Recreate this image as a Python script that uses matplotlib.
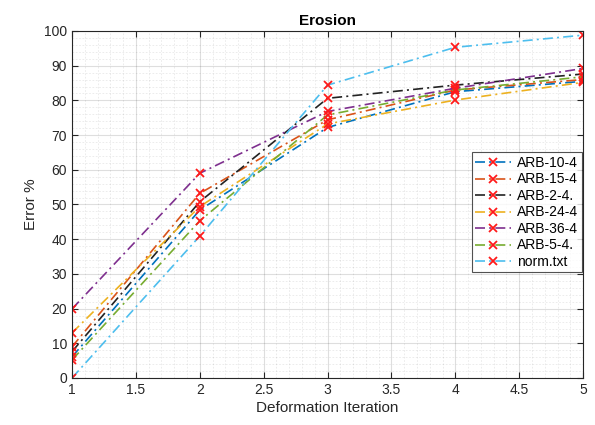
import numpy as np
import matplotlib
matplotlib.use('Agg')
import matplotlib.pyplot as plt
from matplotlib.ticker import MultipleLocator

# data
x = [1, 2, 3, 4, 5]
names = ['ARB-10-4', 'ARB-15-4', 'ARB-2-4.', 'ARB-24-4', 'ARB-36-4', 'ARB-5-4.', 'norm.txt']
arb10 = [6.1, 48.4, 72.2, 82.5, 85.5]
arb15 = [9.0, 53.2, 74.4, 83.0, 86.0]
arb2 = [7.6, 50.8, 80.6, 84.4, 87.6]
arb24 = [13.0, 49.4, 73.2, 80.1, 85.2]
arb36 = [19.9, 59.0, 76.8, 83.5, 89.2]
arb5 = [5.2, 45.3, 75.8, 83.0, 86.8]
norm = [0.0, 40.9, 84.4, 95.3, 98.8]
series = [arb10, arb15, arb2, arb24, arb36, arb5, norm]
colors = ['#0072BD', '#D95319', '#222222', '#EDB120', '#7E2F8E', '#77AC30', '#4DBEEE']

plt.rcParams['font.family'] = ['Liberation Sans', 'DejaVu Sans']

fig = plt.figure(figsize=(5.95, 4.25), dpi=100)
ax = fig.add_axes([0.121, 0.1106, 0.859, 0.8165])

for y, c, n in zip(series, colors, names):
    ax.plot(x, y, color=c, lw=1.2, linestyle=(0, (6, 2.5, 1.2, 2.5)),
            marker='x', markersize=6, markeredgewidth=1.3,
            markeredgecolor='#FF1A1A', label=n)

ax.set_xlim(1, 5)
ax.set_ylim(0, 100)
ax.xaxis.set_major_locator(MultipleLocator(0.5))
ax.xaxis.set_minor_locator(MultipleLocator(0.1))
ax.yaxis.set_major_locator(MultipleLocator(10))
ax.yaxis.set_minor_locator(MultipleLocator(2))
ax.xaxis.set_major_formatter(plt.FuncFormatter(lambda v, p: ('%g' % v)))

ax.grid(True, which='major', color='#262626', alpha=0.15, lw=0.8)
ax.grid(True, which='minor', color='#262626', alpha=0.1, lw=0.6, linestyle=(0, (2, 2)))
ax.tick_params(which='both', direction='in', top=True, right=True, labelsize=10,
               colors='#262626', labelcolor='#262626')
ax.tick_params(which='minor', length=0)
ax.tick_params(which='major', length=4)
for s in ax.spines.values():
    s.set_color('#262626')
    s.set_linewidth(0.8)

ax.set_title('Erosion', fontsize=11, fontweight='bold', pad=4)
ax.set_xlabel('Deformation Iteration', fontsize=11, color='#262626', labelpad=3)
ax.set_ylabel('Error %', fontsize=11, color='#262626', labelpad=4)

leg = ax.legend(loc='upper right', bbox_to_anchor=(0.997, 0.65), fontsize=10,
                frameon=True, fancybox=False, edgecolor='#262626',
                borderpad=0.25, labelspacing=0.18, handlelength=2.6,
                handletextpad=0.4, borderaxespad=0)
leg.get_frame().set_linewidth(0.8)

plt.savefig('out.png', dpi=100)
